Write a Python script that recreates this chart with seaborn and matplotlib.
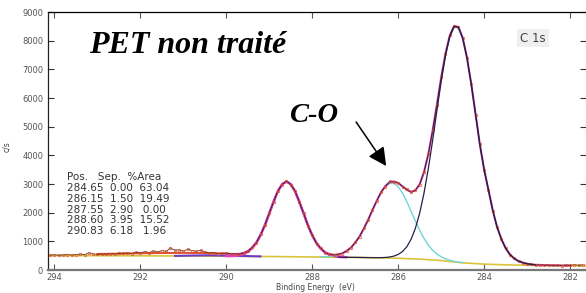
import numpy as np
import matplotlib.pyplot as plt
import seaborn as sns

sns.set_style("ticks")
plt.rcParams["font.family"] = ["DejaVu Sans"]

# measured spectrum (counts/s), 0.1 eV steps from 294.1 down to 281.7 eV
data_be = np.linspace(294.1, 281.7, 125)
data_cps = [520, 530, 515, 525, 540, 520, 535, 560, 530, 600,
            560, 545, 560, 555, 570, 560, 590, 580, 600, 575,
            620, 600, 640, 610, 660, 630, 680, 650, 770, 690,
            700, 660, 720, 680, 650, 690, 630, 600, 610, 570,
            580,
            590, 560, 575, 550, 600, 650, 790, 950, 1250, 1560,
            2000, 2370, 2770, 2980, 3110, 2970, 2760, 2360, 1980, 1540,
            1220, 920, 760, 600, 560, 520, 555, 575, 680, 770,
            970, 1160, 1460, 1740, 2110, 2400, 2730, 2910, 3090, 3070,
            3050, 2900, 2810, 2710, 2790, 2980, 3430, 4030, 4870, 5760,
            6730, 7540, 8200, 8520, 8460, 8110, 7390, 6500, 5420, 4390,
            3490, 2800, 2070, 1510, 1070, 770, 530, 410, 300, 260,
            215, 200, 175, 185, 165, 175, 160, 170, 150, 175,
            160, 185, 165, 180]

# fit envelope, 290.0 -> 282.0 eV
env_be = np.linspace(290.0, 282.0, 81)
env_cps = [573, 562, 556, 562, 593, 659, 778, 965, 1233, 1578,
           1979, 2387, 2748, 2996, 3084, 2993, 2742, 2378, 1964, 1558,
           1208, 934, 744, 621, 553, 530, 540, 584, 662, 782,
           951, 1172, 1442, 1754, 2087, 2413, 2706, 2928, 3058, 3090,
           3034, 2918, 2796, 2730, 2777, 2995, 3414, 4041, 4850, 5772,
           6713, 7551, 8179, 8506, 8480, 8096, 7409, 6484, 5439, 4374,
           3500, 2790, 2080, 1500, 1080, 760, 540, 400, 310, 255,
           220, 195, 180, 175, 170, 166, 163, 160, 158, 156,
           155]

# fit on the low-intensity side
left_be = [293.0, 292.6, 292.2, 291.8, 291.4, 291.0, 290.6, 290.2, 290.0]
left_cps = [560, 568, 578, 586, 593, 597, 592, 582, 573]

# components (drawn on top of background)
oco_be = np.linspace(290.0, 287.2, 29)
oco_cps = [483, 487, 496, 517, 558, 634, 760, 953, 1225, 1573,
           1976, 2387, 2748, 2996, 3084, 2993, 2742, 2378, 1964, 1558,
           1208, 934, 738, 610, 531, 488, 464, 453, 446]

co_be = np.linspace(287.8, 284.5, 34)
co_cps = [458, 462, 471, 490, 522, 576, 659, 782, 951, 1172,
          1442, 1754, 2087, 2413, 2698, 2911, 3022, 3019, 2900, 2678,
          2383, 2049, 1707, 1387, 1104, 871, 690, 556, 461, 389,
          339, 302, 276, 256]

cc_be = np.linspace(287.4, 282.8, 47)
cc_cps = [446, 445, 443, 442, 440, 438, 435, 433, 430, 428,
          432, 438, 453, 485, 544, 644, 811, 1073, 1456, 1988,
          2680, 3530, 4510, 5556, 6582, 7475, 8137, 8484, 8469, 8090,
          7403, 6484, 5439, 4374, 3500, 2790, 2080, 1500, 1080, 760,
          540, 400, 310, 255, 220, 195, 180]

c290_be = [291.2, 290.8, 290.4, 290.0, 289.6, 289.2]
c290_cps = [492, 505, 512, 500, 488, 474]

bg_be = [294.1, 293.0, 292.0, 291.0, 290.0, 289.0, 288.0, 287.0, 286.5, 286.0,
         285.5, 285.0, 284.7, 284.5, 284.0, 283.5, 283.0, 282.0, 281.6]
bg_cps = [505, 500, 495, 488, 480, 470, 455, 440, 428, 410,
          380, 330, 280, 250, 205, 180, 165, 152, 150]

table_rows = ["Pos.   Sep.  %Area",
              "284.65  0.00  63.04",
              "286.15  1.50  19.49",
              "287.55  2.90   0.00",
              "288.60  3.95  15.52",
              "290.83  6.18   1.96"]

fig = plt.figure(figsize=(5.86, 2.93), dpi=100)
ax = fig.add_axes([48 / 586, 23 / 293, 538 / 586, 258 / 293])

def line(x, y, **kw):
    sns.lineplot(x=list(x), y=list(y), ax=ax, estimator=None, sort=False,
                 legend=False, **kw)

line(bg_be, bg_cps, color="#d8c53c", linewidth=1.2)
line(left_be, left_cps, color="#e0502c", linewidth=1.4)
line(c290_be, c290_cps, color="#6a3cc8", linewidth=1.5)
line(oco_be, oco_cps, color="#e040d0", linewidth=1.8)
line(co_be, co_cps, color="#6fd6d8", linewidth=1.0)
line(env_be, env_cps, color="#c43caa", linewidth=1.5)
line(data_be, data_cps, color="#2a1818", linewidth=0.5, marker="o",
     markersize=1.8, markerfacecolor="none", markeredgecolor="#e0502a",
     markeredgewidth=0.5)
line(cc_be, cc_cps, color="#25204a", linewidth=0.9)

ax.set_xlim(294.15, 281.63)
ax.set_ylim(0, 9000)
ax.set_xticks([294, 292, 290, 288, 286, 284, 282])
ax.set_yticks(range(0, 9001, 1000))
ax.tick_params(axis="x", direction="in", top=True, length=4, width=0.8,
               labelsize=6, labelcolor="#555555", pad=2.5, color="#555555")
ax.tick_params(axis="y", direction="in", right=True, length=4, width=0.8,
               labelsize=6, labelcolor="#555555", pad=3.5, color="#333333")

ax.set_xlabel("Binding Energy  (eV)", fontsize=5.5, color="#444444", va="center")
ax.xaxis.set_label_coords((315 - 48) / 538, -(287 - 270) / 258)
ax.set_ylabel("c/s", fontsize=5.5, color="#444444", va="center")
ax.yaxis.set_label_coords((7 - 48) / 538, 0.48)

ax.spines["top"].set_color("black")
ax.spines["top"].set_linewidth(0.9)
ax.spines["left"].set_color("#222222")
ax.spines["left"].set_linewidth(0.9)
ax.spines["bottom"].set_color("#777777")
ax.spines["bottom"].set_linewidth(1.6)
ax.spines["right"].set_color("#999999")
ax.spines["right"].set_linewidth(0.8)

ax.text(0.0762, 0.841, "PET non traité", transform=ax.transAxes,
        fontfamily="Liberation Serif", fontweight="bold", fontstyle="italic",
        fontsize=23, color="black", ha="left", va="baseline")
ax.text(0.448, 0.574, "C-O", transform=ax.transAxes,
        fontfamily="Liberation Serif", fontweight="bold", fontstyle="italic",
        fontsize=20.5, color="black", ha="left", va="baseline")
ax.annotate("", xy=(286.28, 3628), xytext=(286.98, 5163),
            arrowprops=dict(arrowstyle="-|>,head_length=0.55,head_width=0.28",
                            color="black", lw=1.1, mutation_scale=20,
                            shrinkA=0, shrinkB=0))
ax.text(0.9015, 0.899, "C 1s", transform=ax.transAxes, fontsize=8.5,
        color="#444444", ha="center", va="center",
        bbox=dict(facecolor="#efefef", edgecolor="none", pad=2))

for i, row in enumerate(table_rows):
    ax.text(0.0353, 0.360 - i * 0.04186, row, transform=ax.transAxes,
            fontsize=7.5, color="#333333", ha="left", va="center")

fig.savefig("out.png", dpi=100)
